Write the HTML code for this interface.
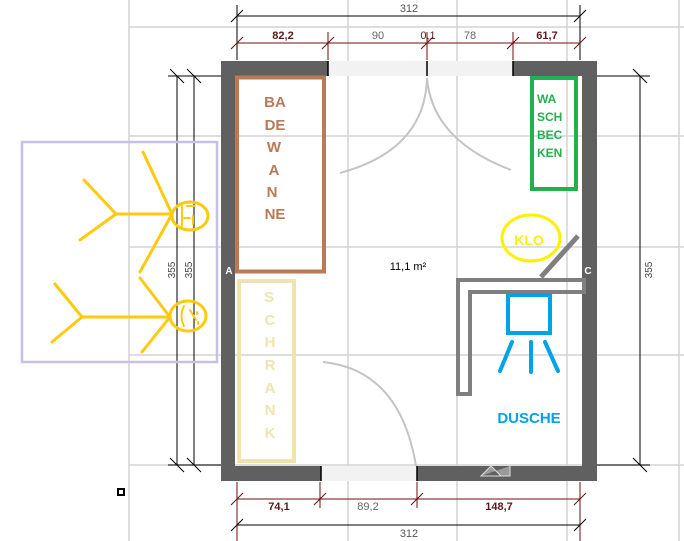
<!DOCTYPE html>
<html><head><meta charset="utf-8"><style>
html,body{margin:0;padding:0;background:#fff}
svg{display:block}
text{font-family:"Liberation Sans",sans-serif}
</style></head><body>
<svg width="684" height="541" viewBox="0 0 684 541" xmlns="http://www.w3.org/2000/svg">
<g stroke="#d4d4d4" stroke-width="1.5">
<line x1="129" y1="0" x2="129" y2="541"/><line x1="348" y1="0" x2="348" y2="541"/><line x1="457" y1="0" x2="457" y2="541"/><line x1="567" y1="0" x2="567" y2="541"/><line x1="679" y1="0" x2="679" y2="541"/>
<line x1="129" y1="27" x2="684" y2="27"/><line x1="129" y1="136" x2="684" y2="136"/><line x1="129" y1="247" x2="684" y2="247"/><line x1="129" y1="355" x2="684" y2="355"/><line x1="129" y1="465" x2="684" y2="465"/>
</g>
<!-- walls -->
<path d="M221 61H597V481H221Z M235 76V466H582V76Z" fill="#606060" fill-rule="evenodd"/>
<rect x="328" y="61" width="185" height="15" fill="#f2f2f2"/>
<line x1="328" y1="61" x2="328" y2="76" stroke="#000" stroke-width="1.5"/><line x1="427" y1="61" x2="427" y2="76" stroke="#000" stroke-width="1.5"/><line x1="513" y1="61" x2="513" y2="76" stroke="#000" stroke-width="1.5"/>
<rect x="321" y="466" width="96" height="15" fill="#f2f2f2"/>
<line x1="321" y1="466" x2="321" y2="481" stroke="#000" stroke-width="1.5"/><line x1="417" y1="466" x2="417" y2="481" stroke="#000" stroke-width="1.5"/>
<path d="M481 476L491 466L501 476Z M481 476H510V466" fill="#9a9a9a" stroke="#ddd" stroke-width="1"/>
<!-- door arcs -->
<g fill="none" stroke="#c4c4c4" stroke-width="2">
<path d="M427 78 Q425 150 340 173"/><path d="M427 78 Q432 140 511 170"/><path d="M323 362 Q400 370 416 466"/>
</g>
<!-- dimensions -->
<g stroke="#000" stroke-width="1">
<line x1="237" y1="16" x2="580" y2="16"/>
<line x1="237" y1="5" x2="237" y2="60"/><line x1="580" y1="5" x2="580" y2="60"/>
<line x1="231" y1="22" x2="243" y2="10"/><line x1="574" y1="22" x2="586" y2="10"/>
</g>
<g stroke="#6b0f0f" stroke-width="1">
<line x1="237" y1="43" x2="580" y2="43"/>
<line x1="328" y1="32" x2="328" y2="60"/><line x1="427" y1="32" x2="427" y2="60"/><line x1="513" y1="32" x2="513" y2="60"/>
<line x1="231" y1="49" x2="243" y2="37"/><line x1="322" y1="49" x2="334" y2="37"/><line x1="421" y1="49" x2="433" y2="37"/><line x1="507" y1="49" x2="519" y2="37"/><line x1="574" y1="49" x2="586" y2="37"/>
<line x1="237" y1="499" x2="580" y2="499"/>
<line x1="237" y1="482" x2="237" y2="541"/><line x1="320" y1="482" x2="320" y2="508"/><line x1="417" y1="482" x2="417" y2="508"/><line x1="580" y1="482" x2="580" y2="541"/>
<line x1="231" y1="505" x2="243" y2="493"/><line x1="314" y1="505" x2="326" y2="493"/><line x1="411" y1="505" x2="423" y2="493"/><line x1="574" y1="505" x2="586" y2="493"/>
</g>
<g stroke="#000" stroke-width="1">
<line x1="237" y1="525" x2="580" y2="525"/>
<line x1="231" y1="531" x2="243" y2="519"/><line x1="574" y1="531" x2="586" y2="519"/>
<line x1="168" y1="76" x2="221" y2="76"/><line x1="168" y1="465" x2="221" y2="465"/>
<line x1="177" y1="76" x2="177" y2="465"/><line x1="194" y1="76" x2="194" y2="465"/>
<line x1="170" y1="69" x2="184" y2="83"/><line x1="187" y1="69" x2="201" y2="83"/>
<line x1="170" y1="458" x2="184" y2="472"/><line x1="187" y1="458" x2="201" y2="472"/>
<line x1="597" y1="76" x2="650" y2="76"/><line x1="597" y1="465" x2="650" y2="465"/>
<line x1="640" y1="76" x2="640" y2="465"/>
<line x1="633" y1="69" x2="647" y2="83"/><line x1="633" y1="458" x2="647" y2="472"/>
</g>
<g font-size="11" text-anchor="middle">
<text x="409" y="12" fill="#555">312</text>
<text x="283" y="39" fill="#5a1a1a" font-weight="bold">82,2</text>
<text x="378" y="39" fill="#666">90</text>
<text x="428" y="39" fill="#5a1a1a">0,1</text>
<text x="470" y="39" fill="#666">78</text>
<text x="547" y="39" fill="#5a1a1a" font-weight="bold">61,7</text>
<text x="279" y="510" fill="#5a1a1a" font-weight="bold">74,1</text>
<text x="368" y="510" fill="#666">89,2</text>
<text x="499" y="510" fill="#5a1a1a" font-weight="bold">148,7</text>
<text x="409" y="537" fill="#555">312</text>
<text transform="translate(175,270) rotate(-90)" fill="#444" font-size="10">355</text>
<text transform="translate(192,270) rotate(-90)" fill="#444" font-size="10">355</text>
<text transform="translate(652,270) rotate(-90)" fill="#444" font-size="10">355</text>
<text x="229" y="274" fill="#fff" font-weight="bold" font-size="10">A</text>
<text x="588" y="274" fill="#fff" font-weight="bold" font-size="10">C</text>
<text x="408" y="270" fill="#000" font-size="11">11,1 m²</text>
</g>
<rect x="118" y="489" width="6" height="6" fill="#fff" stroke="#000" stroke-width="2"/>
<!-- Badewanne -->
<rect x="237" y="77.5" width="87" height="194" fill="none" stroke="#b97a57" stroke-width="4"/>
<g fill="#b97a57" font-weight="bold" font-size="15" text-anchor="middle">
<text x="275" y="107">BA</text><text x="275" y="130">DE</text><text x="274" y="152">W</text><text x="274" y="175">A</text><text x="272" y="197">N</text><text x="275" y="219">NE</text>
</g>
<!-- Schrank -->
<rect x="239" y="281" width="55" height="180" fill="none" stroke="#efe4b0" stroke-width="4"/>
<g fill="#efe4b0" font-weight="bold" font-size="15" text-anchor="middle">
<text x="269" y="302">S</text><text x="270" y="325">C</text><text x="270" y="347">H</text><text x="270" y="370">R</text><text x="270" y="393">A</text><text x="270" y="415">N</text><text x="270" y="438">K</text>
</g>
<!-- Waschbecken -->
<rect x="532" y="78" width="44" height="111" fill="none" stroke="#22b14c" stroke-width="4"/>
<g fill="#22b14c" font-weight="bold" font-size="12">
<text x="537" y="103">WA</text><text x="537" y="121">SCH</text><text x="537" y="139">BEC</text><text x="537" y="157">KEN</text>
</g>
<!-- KLO -->
<ellipse cx="531" cy="238" rx="29" ry="23" fill="none" stroke="#ffef00" stroke-width="3"/>
<text x="529" y="245" fill="#ffef00" font-weight="bold" font-size="14" text-anchor="middle">KLO</text>
<line x1="541" y1="277" x2="578" y2="236" stroke="#7f7f7f" stroke-width="5"/>
<!-- shower -->
<path d="M458 280H584V292H470V394H458Z" fill="none" stroke="#7f7f7f" stroke-width="4"/>
<rect x="508" y="295" width="42" height="38" fill="none" stroke="#00a2e8" stroke-width="4"/>
<g stroke="#00a2e8" stroke-width="4" stroke-linecap="round">
<line x1="512" y1="342" x2="500" y2="371"/><line x1="531" y1="342" x2="531" y2="372"/><line x1="545" y1="342" x2="558" y2="371"/>
</g>
<text x="529" y="423" fill="#00a2e8" font-weight="bold" font-size="15" text-anchor="middle">DUSCHE</text>
<!-- purple area -->
<rect x="22" y="142" width="195" height="220" fill="none" stroke="#c8bfe7" stroke-width="2.5"/>
<g fill="none" stroke="#ffc90e" stroke-width="3" stroke-linecap="round">
<ellipse cx="190" cy="216" rx="18" ry="14"/>
<line x1="172" y1="214" x2="116" y2="214"/><line x1="116" y1="214" x2="84" y2="180"/><line x1="116" y1="214" x2="80" y2="240"/>
<line x1="172" y1="214" x2="143" y2="152"/><line x1="172" y1="214" x2="140" y2="272"/>
<ellipse cx="188" cy="316" rx="18" ry="15"/>
<line x1="170" y1="317" x2="82" y2="317"/><line x1="82" y1="317" x2="55" y2="284"/><line x1="82" y1="317" x2="52" y2="342"/>
<line x1="170" y1="317" x2="140" y2="278"/><line x1="170" y1="317" x2="142" y2="352"/>
<path d="M182 206V226 M187 206H195 M193 216V224 M184 218H190" stroke-width="2"/>
<path d="M184 306Q179 316 184 326 M190 310L196 320 M197 312V314 M198 322V324" stroke-width="2"/>
</g>
</svg>
</body></html>
